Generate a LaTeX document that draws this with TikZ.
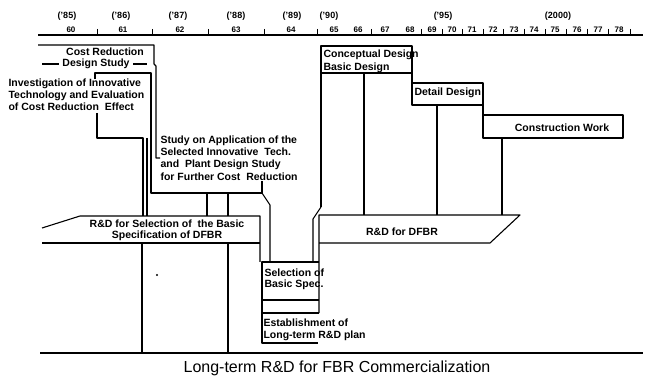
\documentclass[tikz,border=0pt]{standalone}
\usepackage{fontspec}
\setmainfont{Liberation Sans}
\begin{document}
\begin{tikzpicture}[x=1pt,y=-1pt,line width=1.1pt,line join=round,
  lbl/.style={font=\bfseries\fontsize{10.5}{12.3}\selectfont,inner sep=0pt},
  yr/.style={font=\bfseries\fontsize{9}{10}\selectfont,inner sep=0pt},
  ax/.style={font=\bfseries\fontsize{8}{9}\selectfont,inner sep=0pt},
  tick/.style={line width=0.9pt}]
\useasboundingbox (0,0) rectangle (646,377);
% ---- time axis ----
\draw (38,35) -- (643,35);
\foreach \t/\x in {85/67,86/121,87/178,88/236,89/292,90/329}
  \node[yr] (y\t) at (\x,16) {('\t)};
\node[yr] (y95) at (443,16) {('95)};
\node[yr] (y2000) at (558,16) {(2000)};
\foreach \n/\x in {60/71,61/123,62/180,63/236,64/291,65/334,66/358,67/385,68/410,69/432,70/452,71/472,72/493,73/514,74/534,75/555,76/577,77/598,78/619}
  \node[ax] (a\n) at (\x,30) {\n};
\foreach \x in {97,152,208,264,317,371,421,442,462,483,503,524,545,566,587,608,630}
  \draw[tick] (\x,29) -- (\x,36);
% ---- Cost reduction design study ----
\draw (38,45) -- (154,45) -- (154,64) -- (156,66) -- (156,158) -- (160,158);
\node[lbl,anchor=base] (cr) at (105,56) {Cost Reduction};
\node[lbl,anchor=base] (ds) at (96,67) {Design Study};
\draw (42,64) -- (59,64);
\draw (133,64) -- (147,64);
% ---- Investigation ----
\draw (95,79) -- (95,73) -- (151,73) -- (151,193) -- (262,193) -- (262,181);
\node[lbl,anchor=north west,align=left] (inv) at (8,78)
  {Investigation of Innovative\\Technology and Evaluation\\of Cost Reduction \ Effect};
\draw (97,113) -- (97,138) -- (143,138) -- (143,216);
\draw (147,138) -- (147,216);
% ---- Study on application ----
\node[lbl,anchor=north west,align=left] (st) at (160,135)
  {Study on Application of the\\Selected Innovative \ Tech.\\ and \ Plant Design Study\\for Further Cost \ Reduction};
\draw (207,193) -- (207,216);
\draw (228,193) -- (228,216);
\draw (262,193) -- (270,205) -- (270,262);
% ---- R&D for selection of basic spec ----
\draw (42,228) -- (80,216) -- (260,216) -- (260,262);
\draw (42,243) -- (260,243);
\node[lbl,align=center,font=\bfseries\fontsize{10.5}{11}\selectfont] (rds) at (167,230)
  {R\&D for Selection of \ the Basic\\Specification of DFBR};
\draw (142,243) -- (142,353);
\draw (228,243) -- (228,353);
\fill (157,275) circle (1.2pt);
% ---- Selection / Establishment ----
\draw (319,262) -- (262,262) -- (262,343) -- (318,343);
\draw (262,300) -- (319,300);
\draw (262,313) -- (319,313);
\node[lbl,anchor=north west,align=left,font=\bfseries\fontsize{10.5}{11}\selectfont] (sel) at (264,268)
  {Selection of\\Basic Spec.};
\node[lbl,anchor=north west,align=left,font=\bfseries\fontsize{10.5}{12.5}\selectfont] (est) at (263,318)
  {Establishment of\\Long-term R\&D plan};
% ---- R&D for DFBR ----
\draw (319,313) -- (319,215) -- (520,215) -- (490,243) -- (319,243);
\node[lbl] (rdd) at (402,232) {R\&D for DFBR};
% ---- Design boxes ----
\draw (321,207) -- (321,46) -- (412,46) -- (412,83) -- (483,83) -- (483,115) -- (623,115) -- (623,138) -- (483,138) -- (483,115);
\draw (321,207) -- (313,219) -- (313,262);
\draw (321,73) -- (412,73);
\draw (412,83) -- (412,105) -- (483,105);
\node[lbl,anchor=north west,align=left,font=\bfseries\fontsize{10.5}{13}\selectfont] (cd) at (323,49)
  {Conceptual Design\\Basic Design};
\node[lbl,anchor=west] (dd) at (414,93) {Detail Design};
\node[lbl] (cw) at (562,128) {Construction Work};
\draw (364,73) -- (364,215);
\draw (437,105) -- (437,215);
\draw (502,138) -- (502,215);
% ---- bottom ----
\draw (40,353) -- (643,353);
\node[font=\fontsize{16}{18}\selectfont,inner sep=0pt] (cap) at (337,368)
  {Long-term R\&D for FBR Commercialization};
\end{tikzpicture}
\end{document}
